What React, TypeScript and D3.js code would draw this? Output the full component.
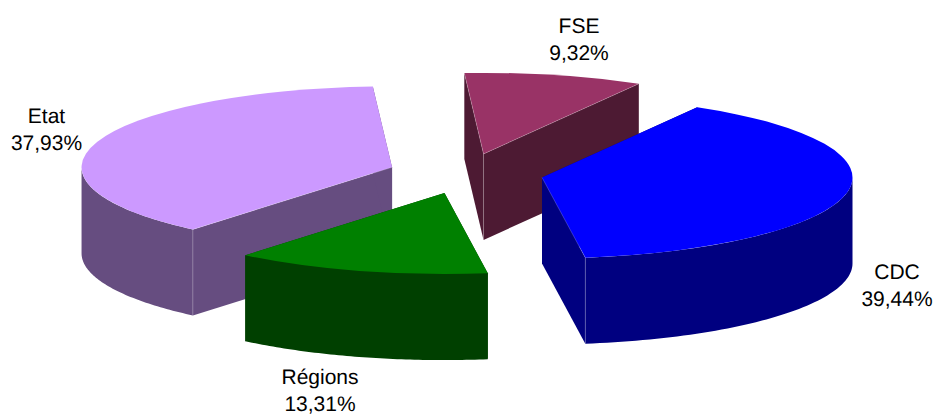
import React from "react";
import * as d3 from "d3";

const categories = ["CDC", "Régions", "Etat", "FSE"];
const shares = [39.44, 13.31, 37.93, 9.32];
const shareLabels = ["39,44%", "13,31%", "37,93%", "9,32%"];
const topColors = ["#0000ff", "#008000", "#cc99ff", "#993366"];
const sideColors = ["#000080", "#004000", "#664d80", "#4d1a33"];
// back to front
const drawOrder = [3, 2, 1, 0];
const labelPos = [
  [897, 279],
  [320, 384],
  [46.5, 123],
  [579, 33],
];

const width = 935;
const height = 414;
const depth = 86;
const explode = 0.25;
const rad = Math.PI / 180;
const cx = 465.8;
const cy = 173.6;
const rx = 310.5;
const ry = 81;

const xScale = d3.scaleLinear().domain([-1, 1]).range([cx - rx, cx + rx]);
const yScale = d3.scaleLinear().domain([-1, 1]).range([cy - ry, cy + ry]);

type Pt = [number, number];

function App() {
  const pieData = d3
    .pie<number>()
    .sort(null)
    .startAngle(30 * rad)
    .endAngle(390 * rad)(shares);
  const line = d3.line();

  const slices = drawOrder.map((i) => {
    const s = pieData[i];
    const mid = (s.startAngle + s.endAngle) / 2;
    const ox = explode * Math.sin(mid);
    const oy = -explode * Math.cos(mid);
    const center: Pt = [xScale(ox), yScale(oy)];
    const rim = (a: number): Pt => [
      xScale(ox + Math.sin(a)),
      yScale(oy - Math.cos(a)),
    ];
    const down = (p: Pt): Pt => [p[0], p[1] + depth];

    const top = d3.arc()({
      innerRadius: 0,
      outerRadius: rx,
      startAngle: s.startAngle,
      endAngle: s.endAngle,
    } as any);

    // outer wall only shows on the front half of the ellipse
    const from = Math.max(s.startAngle, 90 * rad);
    const to = Math.min(s.endAngle, 270 * rad);
    let outer: string | null = null;
    if (to > from) {
      const upper = d3.range(0, 61).map((k) => rim(from + ((to - from) * k) / 60));
      outer = line([...upper, ...upper.slice().reverse().map(down)]);
    }

    // a radial wall is seen when going down leaves the slice
    const midDir: Pt = [Math.sin(mid) * rx, -Math.cos(mid) * ry];
    const seen = (a: number) => {
      const r = rim(a);
      const dx = r[0] - center[0];
      const dy = r[1] - center[1];
      return dx * (dx * midDir[1] - dy * midDir[0]) < 0;
    };
    const angles = [s.startAngle, s.endAngle];
    const visible = angles.filter(seen);

    const walls = angles.map((a) =>
      line([center, rim(a), down(rim(a)), down(center)])
    );
    const edges: string[] = [];
    visible.forEach((a) => {
      edges.push(line([center, rim(a)]) as string);
      const isFront = a >= 90 * rad && a <= 270 * rad;
      if (isFront) edges.push(line([rim(a), down(rim(a))]) as string);
    });
    if (visible.length === 2) edges.push(line([center, down(center)]) as string);

    return { i, center, top, outer, walls, edges };
  });

  return (
    <svg
      width={width}
      height={height}
      style={{ position: "absolute", left: 0, top: 0, display: "block" }}
    >
      {slices.map((d) => (
        <g key={categories[d.i]}>
          {d.walls.map((w, k) => (
            <path key={k} d={w as string} fill={sideColors[d.i]} />
          ))}
          {d.outer && <path d={d.outer} fill={sideColors[d.i]} />}
          <path
            d={d.top as string}
            fill={topColors[d.i]}
            transform={`translate(${d.center[0]},${d.center[1]}) scale(1,${ry / rx})`}
          />
          {d.edges.map((e, k) => (
            <path key={k} d={e} fill="none" stroke="#fff" strokeOpacity={0.3} strokeWidth={0.7} />
          ))}
        </g>
      ))}
      <g
        fontFamily="'Liberation Sans', Arial, sans-serif"
        fontSize={21}
        fill="#000"
        textAnchor="middle"
        textRendering="geometricPrecision"
      >
        {categories.map((c, i) => (
          <text key={c} x={labelPos[i][0]} y={labelPos[i][1]}>
            <tspan x={labelPos[i][0]}>{c}</tspan>
            <tspan x={labelPos[i][0]} dy={27}>
              {shareLabels[i]}
            </tspan>
          </text>
        ))}
      </g>
    </svg>
  );
}

export default App;
